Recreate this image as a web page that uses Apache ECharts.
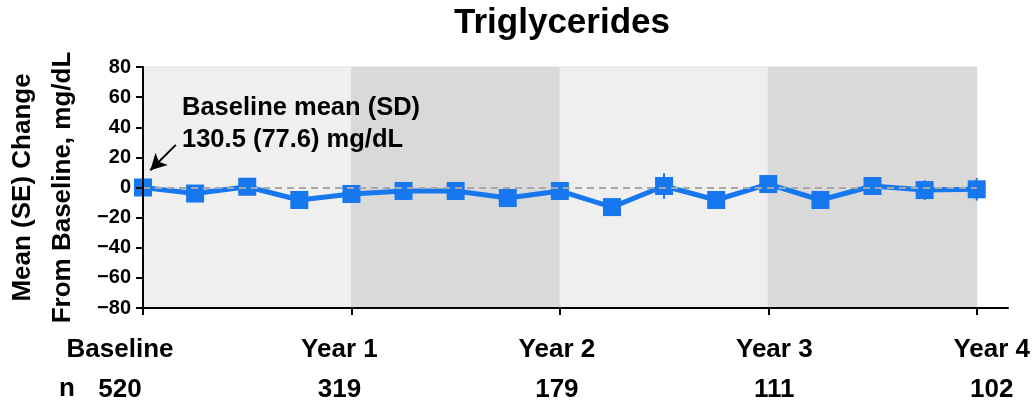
<!DOCTYPE html>
<html>
<head>
<meta charset="utf-8">
<script src="https://cdn.jsdelivr.net/npm/echarts@6/dist/echarts.min.js"></script>
<style>
  html, body { margin: 0; padding: 0; background: #fff; }
  #chart { width: 1035px; height: 405px; }
</style>
</head>
<body>
<div id="chart"></div>
<script>
// visits: baseline then every quarter up to year 4
const visitIndex = [0, 1, 2, 3, 4, 5, 6, 7, 8, 9, 10, 11, 12, 13, 14, 15, 16]
const meanChange = [0, -4, 0.5, -8.3, -4.3, -2.3, -2.3, -7, -2.3, -13, 1, -8.3, 2.3, -8.3, 1, -1.7, -1.2]
const seChange = [0, 2.5, 3, 3, 3.5, 3.5, 4, 4, 4.5, 5, 8.5, 5, 5.5, 5, 5.5, 6.5, 7.5]
const yearTicks = [0, 4, 8, 12, 16]
const yearLabels = ['Baseline', 'Year 1', 'Year 2', 'Year 3', 'Year 4']
const nCounts = ['520', '319', '179', '111', '102']

const FONT = 'Arial, "Liberation Sans", Helvetica, sans-serif'
const BLUE = '#1677ee'
const labelShift = [-23, -12, -3, 6, 15]

const chart = echarts.init(document.getElementById('chart'))

const rich = {}
yearLabels.forEach((l, i) => {
  const s = labelShift[i]
  const pad = s < 0 ? [0, -2 * s, 0, 0] : [0, 0, 0, 2 * s]
  rich['a' + i] = { fontSize: 26, fontWeight: 'bold', color: '#000', fontFamily: FONT, lineHeight: 40, padding: pad }
  rich['b' + i] = { fontSize: 26, fontWeight: 'bold', color: '#000', fontFamily: FONT, lineHeight: 40, padding: pad }
})

const option = {
  animation: false,
  title: {
    text: 'Triglycerides',
    left: 557,
    textAlign: 'center',
    top: 1,
    textStyle: { fontSize: 35, fontWeight: 'bold', color: '#000', fontFamily: FONT }
  },
  grid: { left: 143, right: 27, top: 67, bottom: 97, outerBoundsMode: 'none', containLabel: false },
  xAxis: {
    type: 'value',
    z: 10,
    min: 0,
    max: 16.6,
    axisLine: { onZero: false, lineStyle: { color: '#000', width: 2 } },
    axisTick: { show: true, length: 7, customValues: yearTicks, lineStyle: { color: '#000', width: 2 } },
    splitLine: { show: false },
    axisLabel: {
      customValues: yearTicks,
      margin: 22,
      formatter: function (v) {
        const i = yearTicks.indexOf(Math.round(v))
        if (i < 0) return ''
        return '{a' + i + '|' + yearLabels[i] + '}\n{b' + i + '|' + nCounts[i] + '}'
      },
      rich: rich
    }
  },
  yAxis: {
    type: 'value',
    z: 10,
    min: -80,
    max: 80,
    interval: 20,
    name: 'Mean (SE) Change\nFrom Baseline, mg/dL',
    nameLocation: 'middle',
    nameRotate: 90,
    nameGap: 60,
    nameTextStyle: { fontSize: 26, fontWeight: 'bold', color: '#000', fontFamily: FONT, lineHeight: 40 },
    axisLine: { show: true, lineStyle: { color: '#000', width: 2 } },
    axisTick: { show: true, length: 7, lineStyle: { color: '#000', width: 2 } },
    splitLine: { show: false },
    axisLabel: {
      margin: 12,
      fontSize: 20,
      fontWeight: 'bold',
      color: '#000',
      fontFamily: FONT,
      formatter: v => String(v).replace('-', '\u2212')
    }
  },
  graphic: [
    {
      type: 'text',
      left: 182,
      top: 92,
      z: 10,
      style: {
        text: 'Baseline mean (SD)\n130.5 (77.6) mg/dL',
        font: 'bold 25.5px ' + FONT,
        lineHeight: 32,
        fill: '#000'
      }
    },
    {
      type: 'text',
      left: 59,
      top: 376,
      z: 10,
      style: { text: 'n', font: 'bold 26px ' + FONT, fill: '#000' }
    }
  ],
  series: [
    {
      type: 'custom',
      name: 'SE',
      z: 2,
      data: visitIndex.map((x, i) => [x, meanChange[i] - seChange[i], meanChange[i] + seChange[i]]),
      renderItem: function (params, api) {
        const p1 = api.coord([api.value(0), api.value(1)])
        const p2 = api.coord([api.value(0), api.value(2)])
        return {
          type: 'line',
          shape: { x1: p1[0], y1: p1[1], x2: p2[0], y2: p2[1] },
          style: { stroke: BLUE, lineWidth: 2 }
        }
      },
      markArea: {
        silent: true,
        data: [
          [{ xAxis: 0, itemStyle: { color: '#efefef', borderColor: '#dde3ea', borderWidth: 1 } }, { xAxis: 4 }],
          [{ xAxis: 4, itemStyle: { color: '#d9d9d9', borderColor: '#d3dbe4', borderWidth: 1 } }, { xAxis: 8 }],
          [{ xAxis: 8, itemStyle: { color: '#efefef', borderColor: '#dde3ea', borderWidth: 1 } }, { xAxis: 12 }],
          [{ xAxis: 12, itemStyle: { color: '#d9d9d9', borderColor: '#d3dbe4', borderWidth: 1 } }, { xAxis: 16 }]
        ]
      },
      markLine: {
        silent: true,
        symbol: 'none',
        label: { show: false },
        data: [
          [
            { coord: [0, 0], lineStyle: { color: '#a8a8a8', width: 2, type: [7, 5] } },
            { coord: [16, 0] }
          ],
          [
            { coord: [0.63, 28.3], symbol: 'none', lineStyle: { color: '#000', width: 2, type: 'solid' } },
            { coord: [0.14, 11.5], symbol: 'arrow', symbolSize: [13, 16] }
          ]
        ]
      }
    },
    {
      type: 'line',
      name: 'Mean change',
      z: 3,
      data: visitIndex.map((x, i) => [x, meanChange[i]]),
      symbol: 'rect',
      symbolSize: 18,
      itemStyle: { color: BLUE },
      lineStyle: { color: BLUE, width: 5 }
    }
  ]
}

chart.setOption(option)
</script>
</body>
</html>
